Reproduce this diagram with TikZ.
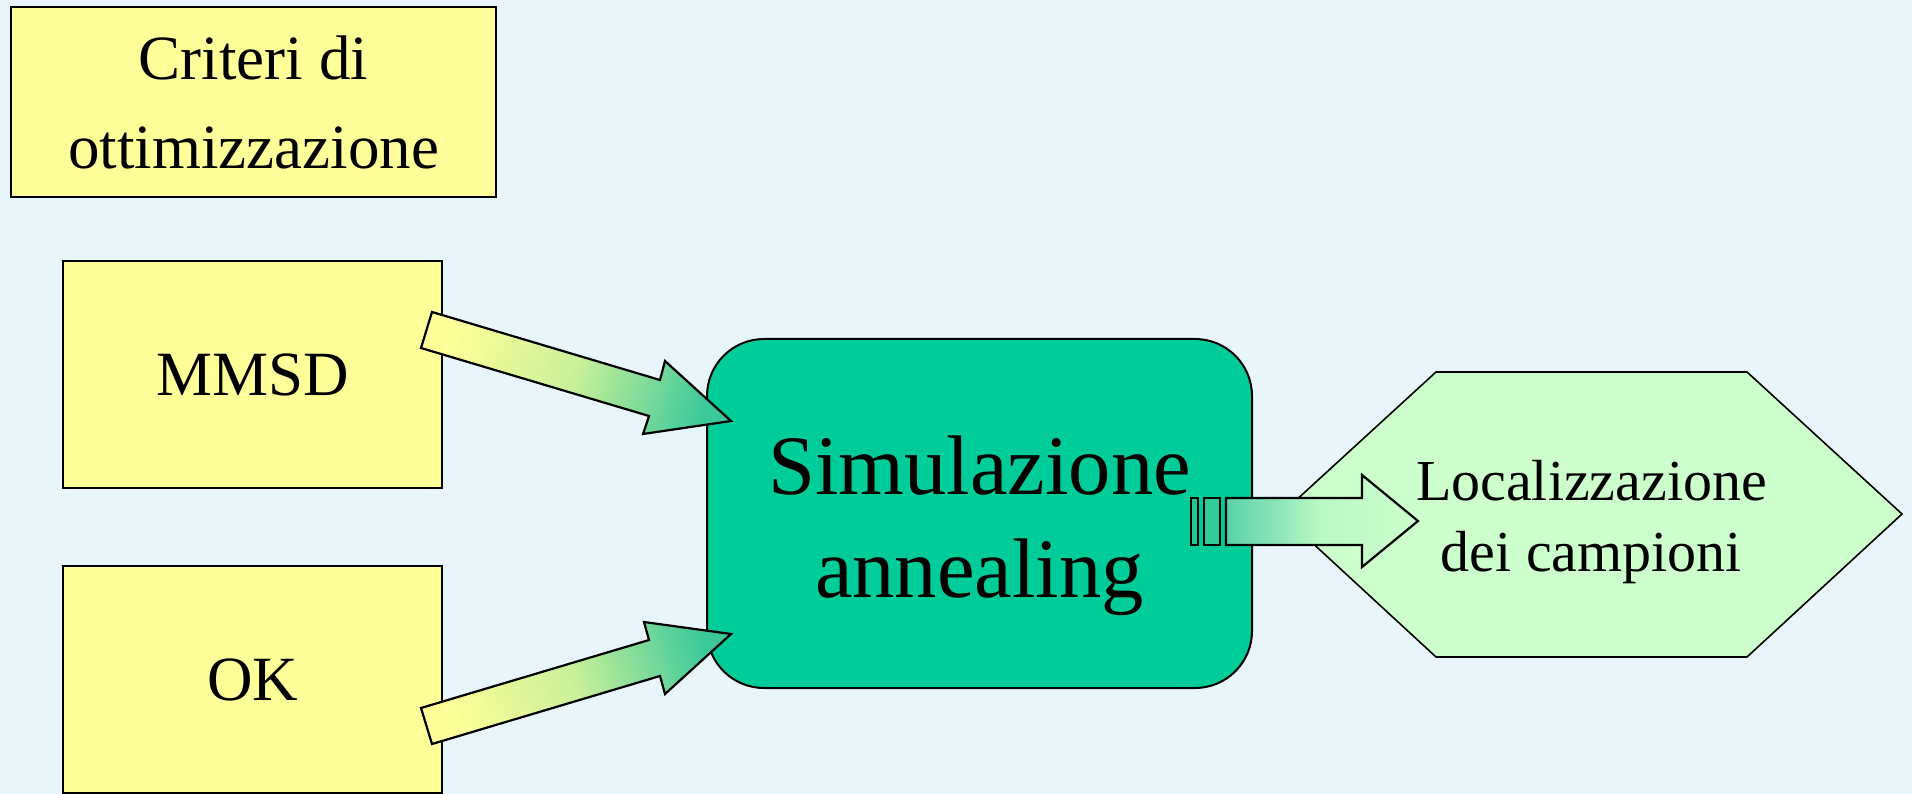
\documentclass[tikz,border=0pt]{standalone}
\usepackage{fontspec}
\setmainfont{Liberation Serif}
\begin{document}
\begin{tikzpicture}[x=1pt,y=-1pt]
  \definecolor{bg}{HTML}{E8F6FB}
  \definecolor{boxyellow}{HTML}{FFFF99}
  \definecolor{simteal}{HTML}{00CC99}
  \definecolor{hexgreen}{HTML}{CCFFCC}
  \definecolor{arrgreen}{HTML}{3CC99A}
  \definecolor{stripeA}{HTML}{22C894}
  \definecolor{stripeB}{HTML}{33CC99}
  \tikzset{
    ybox/.style={draw=black, line width=1.8pt, fill=boxyellow, rectangle,
      inner sep=0pt, align=center, font=\fontsize{63}{89}\selectfont},
    lbl/.style={align=center, inner sep=0pt, text=black},
    blockarrow/.style={draw=black, line width=2.2pt, line join=miter},
    stripebar/.style={draw=black, line width=1.8pt},
  }
  % page
  \useasboundingbox (0,0) rectangle (1912,794);
  \fill[bg] (0,0) rectangle (1912,794);

  % left column of criteria
  \node[ybox, minimum width=485pt, minimum height=190pt] (crit) at (253.5,102)
    {Criteri di\\ottimizzazione};
  \node[ybox, minimum width=379pt, minimum height=227pt] (mmsd) at (252.5,374.5) {MMSD};
  \node[ybox, minimum width=379pt, minimum height=227pt] (ok) at (252.5,679.5) {OK};

  % central process
  \node[draw=black, line width=2pt, fill=simteal, rounded corners=57pt,
        minimum width=545pt, minimum height=349pt, inner sep=0pt] (sim) at (979.5,513.5) {};

  % output hexagon
  \draw[line width=1.6pt, fill=hexgreen, line join=miter]
    (1436,372) coordinate (hexNW) -- (1747,372) coordinate (hexNE)
    -- (1902,514) coordinate (hexE) -- (1747,657) coordinate (hexSE)
    -- (1436,657) coordinate (hexSW) -- (1281,514) coordinate (hexW) -- cycle;

  % block arrows from the criteria to the process
  \path[blockarrow, shade, shading=axis, top color=arrgreen, bottom color=boxyellow,
        middle color=boxyellow!72!arrgreen, shading angle=-106.6]
    (432,312) -- (660,380) -- (665,361) -- (731,421) -- (643,434) -- (649,416)
    -- (421,348) -- cycle;
  \path[blockarrow, shade, shading=axis, top color=arrgreen, bottom color=boxyellow,
        middle color=boxyellow!72!arrgreen, shading angle=-73.4]
    (432,744) -- (660,676) -- (665,694) -- (731,634) -- (644,622) -- (649,640)
    -- (421,708) -- cycle;

  % striped block arrow from the process to the output
  \draw[stripebar, fill=stripeA] (1191,498) rectangle (1198,545);
  \draw[stripebar, fill=stripeB] (1204,498) rectangle (1220,545);
  \path[blockarrow, shade, shading=axis, left color=arrgreen!85!white,
        right color=hexgreen, middle color=hexgreen!88!arrgreen]
    (1226,498) -- (1362,498) -- (1362,475) -- (1418,521) -- (1362,567)
    -- (1362,545) -- (1226,545) -- cycle;

  % labels
  \node[lbl, font=\fontsize{84.6}{103}\selectfont] (simtext) at (979.5,525.5)
    {Simulazione\\annealing};
  \node[lbl, font=\fontsize{58}{71}\selectfont] (loc) at (1591.5,522)
    {Localizzazione\\dei campioni};
\end{tikzpicture}
\end{document}
